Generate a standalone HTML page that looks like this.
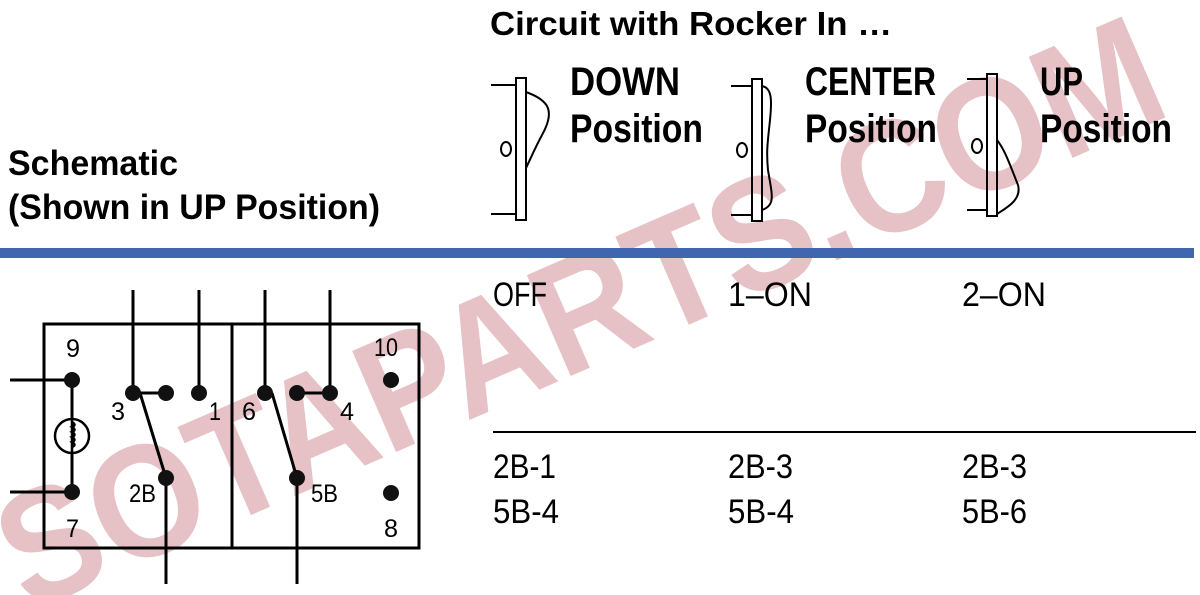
<!DOCTYPE html>
<html><head><meta charset="utf-8"><style>
html,body{margin:0;padding:0;background:#fff;width:1200px;height:595px;overflow:hidden}
svg{display:block;overflow:hidden}
text{font-family:"Liberation Sans",sans-serif}
</style></head><body>
<svg width="1200" height="595" viewBox="0 0 1200 595" xmlns="http://www.w3.org/2000/svg">
<defs><clipPath id="c"><rect x="0" y="0" width="1200" height="595"/></clipPath></defs>
<g clip-path="url(#c)">
<!-- watermark -->
<g transform="translate(28,612) rotate(-23.5)" opacity="0.38">
<text x="0" y="0" font-size="160" font-weight="bold" fill="#c0606c" textLength="1250" lengthAdjust="spacingAndGlyphs">SOTAPARTS.COM</text>
</g>
</g>
<!-- headings -->
<g font-weight="bold" fill="#000">
<text x="490" y="35" font-size="33" textLength="402" lengthAdjust="spacingAndGlyphs">Circuit with Rocker In …</text>
<text x="8" y="175" font-size="35" textLength="170" lengthAdjust="spacingAndGlyphs">Schematic</text>
<text x="8" y="219" font-size="35" textLength="372" lengthAdjust="spacingAndGlyphs">(Shown in UP Position)</text>
<text x="570" y="95" font-size="40" textLength="110" lengthAdjust="spacingAndGlyphs">DOWN</text>
<text x="570" y="142" font-size="40" textLength="133" lengthAdjust="spacingAndGlyphs">Position</text>
<text x="805" y="95" font-size="40" textLength="131" lengthAdjust="spacingAndGlyphs">CENTER</text>
<text x="805" y="142" font-size="40" textLength="132" lengthAdjust="spacingAndGlyphs">Position</text>
<text x="1040" y="95" font-size="40" textLength="43" lengthAdjust="spacingAndGlyphs">UP</text>
<text x="1040" y="142" font-size="40" textLength="132" lengthAdjust="spacingAndGlyphs">Position</text>
</g>
<!-- rockers -->
<g fill="none" stroke="#000" stroke-width="2">
<rect x="516" y="78" width="10" height="142"/>
<line x1="491" y1="85" x2="516" y2="85"/><line x1="491" y1="214" x2="516" y2="214"/>
<ellipse cx="506" cy="149" rx="5" ry="7"/>
<path d="M526 92 C548 100 556 110 542 135 C534 150 530 160 526 168"/>
<rect x="752" y="79" width="10" height="142"/>
<line x1="731" y1="86" x2="752" y2="86"/><line x1="731" y1="215" x2="752" y2="215"/>
<ellipse cx="742" cy="150" rx="5" ry="7"/>
<path d="M762 86 C772 88 772 100 770 120 C768 140 766 150 768 170 C772 195 776 205 762 210"/>
<rect x="987" y="74" width="10" height="142"/>
<line x1="967" y1="79" x2="987" y2="79"/><line x1="967" y1="210" x2="987" y2="210"/>
<ellipse cx="977" cy="146" rx="5" ry="7"/>
<path d="M997 140 C1005 150 1010 165 1018 185 C1022 200 1006 208 997 214"/>
</g>
<!-- blue bar -->
<rect x="0" y="248" width="1194" height="10" fill="#3f66ae"/>
<!-- right table -->
<g fill="#000" font-size="34">
<text x="493" y="306" textLength="54" lengthAdjust="spacingAndGlyphs">OFF</text>
<text x="728" y="306" textLength="84" lengthAdjust="spacingAndGlyphs">1–ON</text>
<text x="962" y="306" textLength="84" lengthAdjust="spacingAndGlyphs">2–ON</text>
<text x="493" y="478" textLength="63" lengthAdjust="spacingAndGlyphs">2B-1</text>
<text x="728" y="478" textLength="65" lengthAdjust="spacingAndGlyphs">2B-3</text>
<text x="962" y="478" textLength="65" lengthAdjust="spacingAndGlyphs">2B-3</text>
<text x="493" y="523" textLength="66" lengthAdjust="spacingAndGlyphs">5B-4</text>
<text x="728" y="523" textLength="66" lengthAdjust="spacingAndGlyphs">5B-4</text>
<text x="962" y="523" textLength="65" lengthAdjust="spacingAndGlyphs">5B-6</text>
</g>
<line x1="493" y1="432" x2="1196" y2="432" stroke="#000" stroke-width="2"/>
<!-- schematic -->
<g stroke="#000" stroke-width="3" fill="none">
<rect x="44" y="324" width="375" height="224"/>
<line x1="232" y1="324" x2="232" y2="548"/>
<line x1="10" y1="380" x2="72" y2="380"/>
<line x1="10" y1="492" x2="72" y2="492"/>
<line x1="72" y1="380" x2="72" y2="492"/>
<line x1="133" y1="290" x2="133" y2="393"/>
<line x1="199" y1="290" x2="199" y2="393"/>
<line x1="265" y1="290" x2="265" y2="393"/>
<line x1="330" y1="290" x2="330" y2="393"/>
<line x1="133" y1="393" x2="166" y2="393"/>
<line x1="297" y1="393" x2="330" y2="393"/>
<line x1="140" y1="393" x2="166" y2="478"/>
<line x1="272" y1="393" x2="297" y2="478"/>
<line x1="166" y1="478" x2="166" y2="584"/>
<line x1="297" y1="478" x2="297" y2="584"/>
</g>
<circle cx="72" cy="436" r="17" fill="#fff" stroke="#000" stroke-width="2.5"/>
<path d="M72 422 q5 3 0 5 q5 3 0 5 q5 3 0 5 q5 3 0 5 q5 3 0 5 M72 420 v32" stroke="#000" stroke-width="2.5" fill="none"/>
<g fill="#111">
<circle cx="72" cy="380" r="8"/><circle cx="72" cy="492" r="8"/>
<circle cx="133" cy="393" r="8"/><circle cx="166" cy="393" r="8"/><circle cx="199" cy="393" r="8"/>
<circle cx="265" cy="393" r="8"/><circle cx="297" cy="393" r="8"/><circle cx="330" cy="393" r="8"/>
<circle cx="166" cy="478" r="8"/><circle cx="297" cy="478" r="8"/>
<circle cx="391" cy="380" r="8"/><circle cx="391" cy="493" r="8"/>
</g>
<g fill="#000" font-size="25">
<text x="66" y="357" textLength="14" lengthAdjust="spacingAndGlyphs">9</text>
<text x="374" y="356" textLength="24" lengthAdjust="spacingAndGlyphs">10</text>
<text x="111" y="420" textLength="14" lengthAdjust="spacingAndGlyphs">3</text>
<text x="209" y="420" textLength="12" lengthAdjust="spacingAndGlyphs">1</text>
<text x="242" y="420" textLength="14" lengthAdjust="spacingAndGlyphs">6</text>
<text x="340" y="420" textLength="14" lengthAdjust="spacingAndGlyphs">4</text>
<text x="129" y="502" textLength="27" lengthAdjust="spacingAndGlyphs">2B</text>
<text x="311" y="502" textLength="27" lengthAdjust="spacingAndGlyphs">5B</text>
<text x="66" y="537" textLength="13" lengthAdjust="spacingAndGlyphs">7</text>
<text x="384" y="537" textLength="14" lengthAdjust="spacingAndGlyphs">8</text>
</g>
</svg>
</body></html>
